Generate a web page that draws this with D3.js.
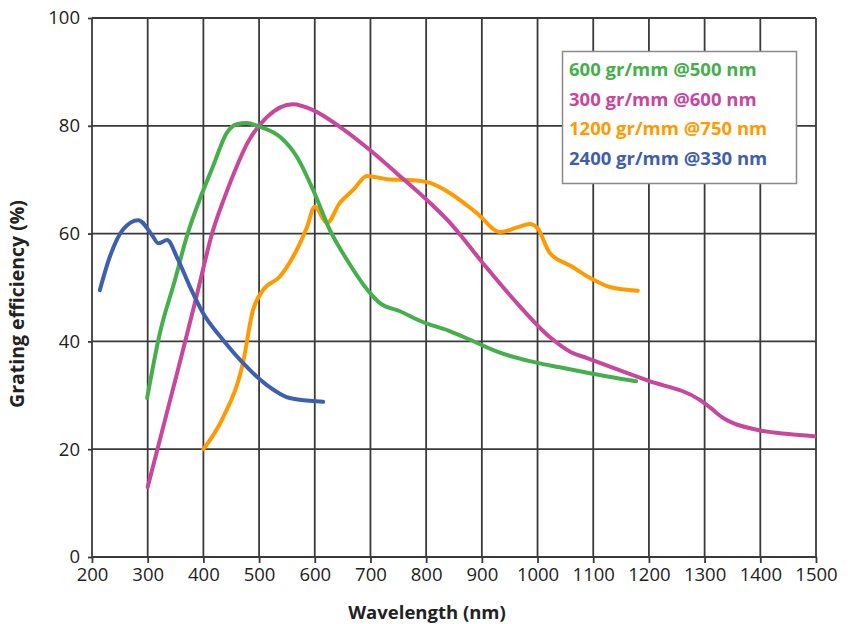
<!DOCTYPE html>
<html>
<head>
<meta charset="utf-8">
<script src="https://cdn.jsdelivr.net/npm/d3@7"></script>
<style>
  body { margin: 0; background: #fff; }
  text { font-family: "Open Sans", "Noto Sans", sans-serif; }
</style>
</head>
<body>
<div id="chart"></div>
<script>
// tick values
var xTicks = [200, 300, 400, 500, 600, 700, 800, 900, 1000, 1100, 1200, 1300, 1400, 1500];
var yTicks = [0, 20, 40, 60, 80, 100];

// series: wavelength (nm) and efficiency (%)
var seriesNames = ["600 gr/mm @500 nm", "300 gr/mm @600 nm", "1200 gr/mm @750 nm", "2400 gr/mm @330 nm"];
var seriesColors = ["#45b04b", "#c9469d", "#ff9a00", "#3e5fae"];

var greenX = [299, 322, 349, 370, 394, 417, 442, 460, 478, 502, 538, 568, 597, 627, 658, 699, 717, 753, 794, 840, 879, 930, 992, 1040, 1094, 1177];
var greenY = [29.5, 41.6, 51.4, 59.4, 66.5, 72.4, 78.7, 80.3, 80.5, 79.8, 77.9, 74.2, 68.1, 60.7, 55.1, 49.0, 47.1, 45.6, 43.6, 42.0, 40.3, 38.0, 36.2, 35.2, 34.1, 32.6];

var magentaX = [300, 335, 360, 388, 417, 439, 460, 478, 514, 561, 597, 645, 699, 747, 807, 843, 902, 963, 1022, 1060, 1089, 1112, 1196, 1292, 1309, 1333, 1394, 1450, 1497];
var magentaY = [13, 27, 37, 48.5, 60.5, 67, 72.5, 76.6, 81.6, 84.0, 82.9, 79.8, 75.5, 71.2, 65.7, 62, 54.5, 47.1, 40.8, 38.0, 36.9, 36.0, 32.8, 29.1, 27.8, 25.8, 23.6, 22.8, 22.4];

var orangeX = [400, 435, 471, 489, 507, 537, 561, 586, 600, 622, 645, 669, 694, 730, 776, 807, 843, 891, 933, 965, 986, 1000, 1022, 1060, 1094, 1130, 1180];
var orangeY = [20, 25.8, 36, 45.8, 49.5, 52, 55.7, 61.2, 65, 62, 65.7, 68.1, 70.7, 70.1, 69.9, 69.4, 67.5, 63.8, 60.3, 61.2, 61.8, 61, 56.4, 54, 51.8, 50.1, 49.4];

var blueX = [214, 232, 256, 283, 308, 319, 335, 353, 376, 399, 435, 471, 514, 555, 615];
var blueY = [49.5, 55.7, 60.8, 62.5, 59.7, 58.2, 58.8, 55.5, 50.1, 45.3, 40.3, 36.0, 31.9, 29.5, 28.8];

var seriesX = [greenX, magentaX, orangeX, blueX];
var seriesY = [greenY, magentaY, orangeY, blueY];

var width = 848, height = 624;
var margin = { top: 18, right: 32, bottom: 67, left: 92 };

var svg = d3.select("#chart").append("svg")
  .attr("width", width)
  .attr("height", height);

var x = d3.scaleLinear().domain([200, 1500]).range([margin.left, width - margin.right]);
var y = d3.scaleLinear().domain([0, 100]).range([height - margin.bottom, margin.top]);

var gridColor = "#3a3a3a";

// grid lines
svg.append("g").selectAll("line")
  .data(xTicks)
  .enter().append("line")
  .attr("x1", function(d) { return x(d); })
  .attr("x2", function(d) { return x(d); })
  .attr("y1", y(0))
  .attr("y2", y(100))
  .attr("stroke", gridColor)
  .attr("stroke-width", 1.8);

svg.append("g").selectAll("line")
  .data(yTicks)
  .enter().append("line")
  .attr("x1", x(200))
  .attr("x2", x(1500))
  .attr("y1", function(d) { return y(d); })
  .attr("y2", function(d) { return y(d); })
  .attr("stroke", gridColor)
  .attr("stroke-width", 1.8);

// axes
var xAxis = svg.append("g")
  .attr("transform", "translate(0," + y(0) + ")")
  .call(d3.axisBottom(x).tickValues(xTicks).tickSize(6).tickPadding(5).tickFormat(d3.format("d")));
xAxis.select(".domain").remove();
xAxis.selectAll("line").attr("stroke", gridColor).attr("stroke-width", 1.8);
xAxis.selectAll("text").attr("font-size", 18.5).attr("fill", "#222");

var yAxis = svg.append("g")
  .attr("transform", "translate(" + x(200) + ",0)")
  .call(d3.axisLeft(y).tickValues(yTicks).tickSize(4).tickPadding(8));
yAxis.select(".domain").remove();
yAxis.selectAll("line").attr("stroke", gridColor).attr("stroke-width", 1.8);
yAxis.selectAll("text").attr("font-size", 18.5).attr("fill", "#222");

// axis titles
svg.append("text")
  .attr("x", 427)
  .attr("y", 619)
  .attr("text-anchor", "middle")
  .attr("font-size", 18.5)
  .attr("font-weight", "bold")
  .attr("fill", "#222")
  .text("Wavelength (nm)");

svg.append("text")
  .attr("transform", "translate(24,304) rotate(-90)")
  .attr("text-anchor", "middle")
  .attr("font-size", 19.5)
  .attr("font-weight", "bold")
  .attr("fill", "#222")
  .text("Grating efficiency (%)");

// curves
var line = d3.line()
  .x(function(d) { return x(d[0]); })
  .y(function(d) { return y(d[1]); })
  .curve(d3.curveMonotoneX);

// draw order: orange, magenta, green, blue like the picture
var order = [2, 1, 0, 3];
order.forEach(function(i) {
  var pts = d3.zip(seriesX[i], seriesY[i]);
  svg.append("path")
    .datum(pts)
    .attr("d", line)
    .attr("fill", "none")
    .attr("stroke", seriesColors[i])
    .attr("stroke-width", 4)
    .attr("stroke-linecap", "round")
    .attr("stroke-linejoin", "round");
});

// legend
var legend = svg.append("g");
legend.append("rect")
  .attr("x", 562.5)
  .attr("y", 51.5)
  .attr("width", 234)
  .attr("height", 132)
  .attr("fill", "#fff")
  .attr("stroke", "#8a8a8a")
  .attr("stroke-width", 1.5);

legend.selectAll("text")
  .data(seriesNames)
  .enter().append("text")
  .attr("x", 569)
  .attr("y", function(d, i) { return 76 + i * 29.7; })
  .attr("font-size", 18.5)
  .attr("font-weight", "bold")
  .attr("fill", function(d, i) { return seriesColors[i]; })
  .text(function(d) { return d; });
</script>
</body>
</html>
